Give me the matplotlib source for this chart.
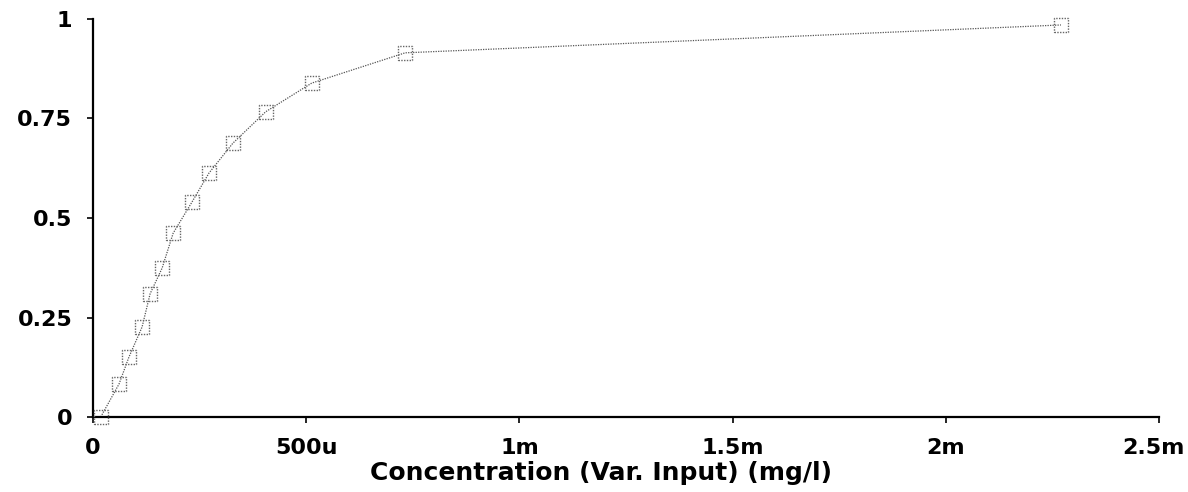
import matplotlib
matplotlib.use("Agg")
import matplotlib.pyplot as plt
from matplotlib.transforms import ScaledTranslation

# concentration in micro-units (u = 1e-6), fraction response
conc_u = [18, 61, 84, 115, 134, 162, 188, 232, 272, 328, 405, 513, 732, 2270]
response = [0.0, 0.083, 0.15, 0.226, 0.31, 0.374, 0.462, 0.54, 0.613, 0.688, 0.767, 0.839, 0.915, 0.985]

xticks = [0, 500, 1000, 1500, 2000, 2500]
xticklabels = ["0", "500u", "1m", "1.5m", "2m", "2.5m"]
yticks = [0, 0.25, 0.5, 0.75, 1]
yticklabels = ["0", "0.25", "0.5", "0.75", "1"]

plt.rcParams['font.family'] = ['DejaVu Sans']

fig = plt.figure(figsize=(11.88, 4.92), dpi=100)
ax = fig.add_axes([0.0783, 0.1524, 0.8973, 0.809])

ax.plot(conc_u, response, color="#555555", linestyle=(0, (1, 1)), linewidth=0.9,
        clip_on=False, zorder=2)
ax.scatter(conc_u, response, marker="s", s=100, facecolors="none",
           edgecolors="#666666", linewidths=1.0, linestyles=(0, (1, 1)),
           clip_on=False, zorder=3)

ax.set_xlim(0, 2500)
ax.set_ylim(0, 1)
ax.set_xticks(xticks)
ax.set_xticklabels(xticklabels)
ax.set_yticks(yticks)
ax.set_yticklabels(yticklabels)

for s in ["top", "right"]:
    ax.spines[s].set_visible(False)
for s in ["left", "bottom"]:
    ax.spines[s].set_linewidth(1.6)
    ax.spines[s].set_color("black")

ax.tick_params(axis="both", direction="out", length=4, width=1.2, labelsize=16, pad=11)
for lbl in ax.get_xticklabels() + ax.get_yticklabels():
    lbl.set_fontweight("bold")

# shift the last x tick label slightly left so it stays inside the canvas
last = ax.get_xticklabels()[-1]
last.set_transform(last.get_transform() + ScaledTranslation(-6 / 100, 0, fig.dpi_scale_trans))

ax.set_xlabel("Concentration (Var. Input) (mg/l)", fontsize=18, fontweight="bold", labelpad=2)
ax.xaxis.label.set_x(0.4765)

fig.savefig("out.png", dpi=100)
